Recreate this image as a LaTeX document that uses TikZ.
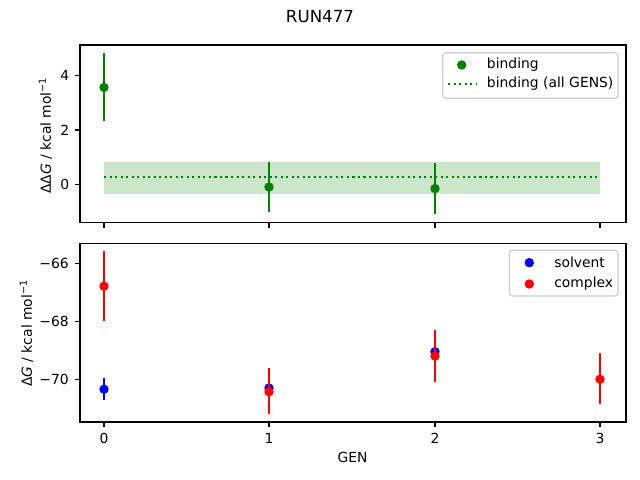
\documentclass[tikz,border=0pt]{standalone}
\usepackage{fontspec}
\setmainfont{DejaVu Sans}
\definecolor{mplgreen}{RGB}{0,128,0}
\definecolor{mplblue}{RGB}{0,0,255}
\definecolor{mplred}{RGB}{255,0,0}
\newcommand{\mplminus}{\char"2212\relax}
\begin{document}
\begin{tikzpicture}[x=0.72pt,y=0.72pt,
  spine/.style={line width=0.8pt},
  tickmark/.style={line width=0.8pt},
  errbar/.style={line width=1.5pt},
  lbl/.style={inner sep=0pt,font=\fontsize{10}{12}\selectfont},
  legbox/.style={draw=black!20,fill=white,fill opacity=0.8,rounded corners=2pt,line width=0.8pt}]
\useasboundingbox (0,0) rectangle (640,480);

\node[inner sep=0pt,font=\fontsize{12}{14}\selectfont] (title) at (320,463) {RUN477};

% upper panel
\fill[color=mplgreen,opacity=0.2] (104,317.7) rectangle (600,285.9);
\draw[color=mplgreen,line width=1.5pt,dash pattern=on 1.5pt off 2.475pt] (104,302.8) -- (600,302.8);
\draw[errbar,color=mplgreen] (104,358.7) -- (104,426.6);
\draw[errbar,color=mplgreen] (269,317.7) -- (269,268.0);
\draw[errbar,color=mplgreen] (435,317.4) -- (435,266.1);
\fill[color=mplgreen] (104,392.6) circle[radius=3.4pt];
\fill[color=mplgreen] (269,293.0) circle[radius=3.4pt];
\fill[color=mplgreen] (435,291.4) circle[radius=3.4pt];
\draw[spine] (80,257.3) rectangle (626,435);

\draw[tickmark] (104,257.3) -- (104,252.4);
\draw[tickmark] (269,257.3) -- (269,252.4);
\draw[tickmark] (435,257.3) -- (435,252.4);
\draw[tickmark] (600,257.3) -- (600,252.4);
\draw[tickmark] (80,295.7) -- (75.1,295.7);
\draw[tickmark] (80,350.0) -- (75.1,350.0);
\draw[tickmark] (80,404.3) -- (75.1,404.3);
\node[lbl,anchor=east] (yt0) at (69.5,295.7) {0};
\node[lbl,anchor=east] (yt2) at (69.5,350.0) {2};
\node[lbl,anchor=east] (yt4) at (69.5,404.3) {4};
\node[lbl,rotate=90] (ylabtop) at (45.5,344.5) {ΔΔ\textit{G} / kcal mol\textsuperscript{\mplminus1}};

\draw[legbox] (442.7,381.7) rectangle (618,427.3);
\fill[color=mplgreen] (461.7,415) circle[radius=3.4pt];
\draw[color=mplgreen,line width=1.5pt,dash pattern=on 1.5pt off 2.475pt] (448,396.3) -- (476,396.3);
\node[lbl,anchor=west] (legbind) at (486.7,415) {binding};
\node[lbl,anchor=west] (legall) at (486.7,396.3) {binding (all GENS)};

% lower panel
\draw[errbar,color=mplblue] (104,79.8) -- (104,101.8);
\draw[errbar,color=mplblue] (269,83.3) -- (269,100.7);
\draw[errbar,color=mplblue] (435,119.6) -- (435,137.0);
\fill[color=mplblue] (104,90.8) circle[radius=3.4pt];
\fill[color=mplblue] (269,92.0) circle[radius=3.4pt];
\fill[color=mplblue] (435,128.3) circle[radius=3.4pt];
\draw[errbar,color=mplred] (104,159.0) -- (104,228.6);
\draw[errbar,color=mplred] (269,66.2) -- (269,112.0);
\draw[errbar,color=mplred] (435,98.4) -- (435,150.0);
\draw[errbar,color=mplred] (600,76.3) -- (600,126.8);
\fill[color=mplred] (104,193.8) circle[radius=3.4pt];
\fill[color=mplred] (269,88.2) circle[radius=3.4pt];
\fill[color=mplred] (435,123.9) circle[radius=3.4pt];
\fill[color=mplred] (600,100.7) circle[radius=3.4pt];
\draw[spine] (80,58) rectangle (626,236.7);

\draw[tickmark] (104,58) -- (104,53.1);
\draw[tickmark] (269,58) -- (269,53.1);
\draw[tickmark] (435,58) -- (435,53.1);
\draw[tickmark] (600,58) -- (600,53.1);
\draw[tickmark] (80,100.7) -- (75.1,100.7);
\draw[tickmark] (80,158.7) -- (75.1,158.7);
\draw[tickmark] (80,216.7) -- (75.1,216.7);
\node[lbl] (xt0) at (104,41.7) {0};
\node[lbl] (xt1) at (269,41.7) {1};
\node[lbl] (xt2) at (435,41.7) {2};
\node[lbl] (xt3) at (600,41.7) {3};
\node[lbl,anchor=east] (yt70) at (69,100.7) {\mplminus70};
\node[lbl,anchor=east] (yt68) at (69,158.7) {\mplminus68};
\node[lbl,anchor=east] (yt66) at (69,216.7) {\mplminus66};
\node[lbl,rotate=90] (ylabbot) at (26.5,146.7) {Δ\textit{G} / kcal mol\textsuperscript{\mplminus1}};
\node[lbl] (xlab) at (352.5,22.7) {GEN};

\draw[legbox] (509.3,184) rectangle (618,229.7);
\fill[color=mplblue] (529.3,217.3) circle[radius=3.4pt];
\fill[color=mplred] (529.3,196) circle[radius=3.4pt];
\node[lbl,anchor=west] (legsolv) at (554,217.3) {solvent};
\node[lbl,anchor=west] (legcplx) at (554,196) {complex};
\end{tikzpicture}
\end{document}
